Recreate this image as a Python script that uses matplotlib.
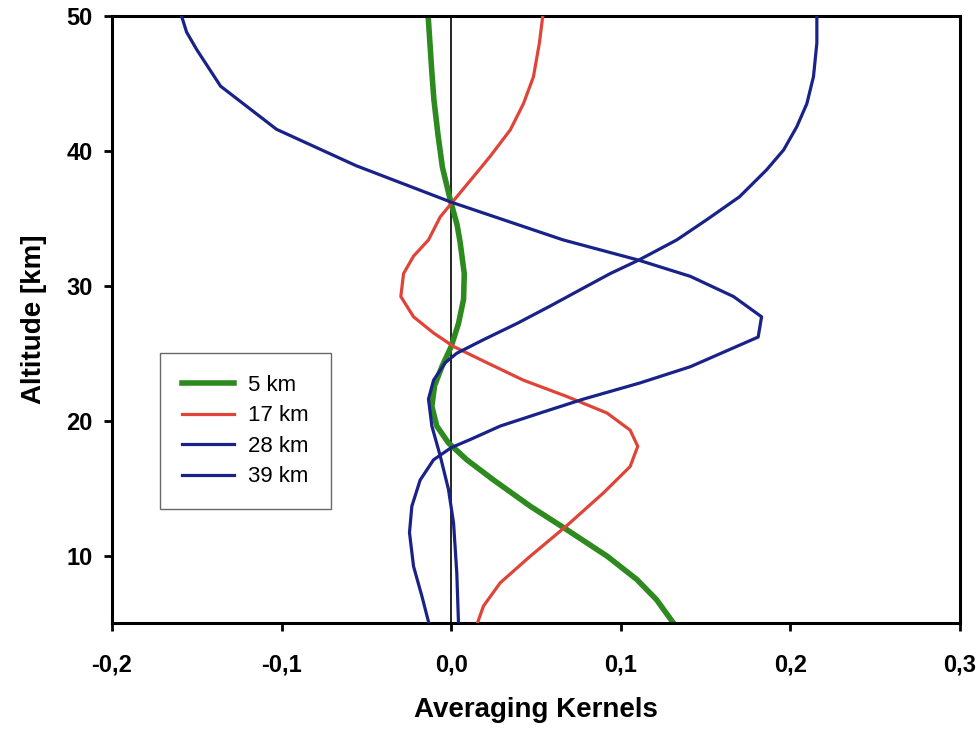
import matplotlib
matplotlib.use("Agg")
import matplotlib.pyplot as plt
from matplotlib.ticker import FuncFormatter

plt.rcParams['font.family'] = ['Liberation Sans', 'DejaVu Sans']

# Averaging kernel profiles (altitude in km, kernel value)
alt_5 = [50, 46.0, 43.8, 41.2, 38.8, 36.5, 34.5, 33.2, 30.9, 29.0, 27.2, 25.5,
         24.0, 22.6, 21.06, 19.6, 18.35, 17.1, 15.6, 13.66, 11.93, 9.95, 8.22,
         6.74, 5.0]
ak_5 = [-0.0136, -0.0115, -0.0102, -0.0078, -0.0052, -0.0008, 0.0035, 0.0053,
        0.0077, 0.0073, 0.0043, 0.0, -0.0055, -0.0098, -0.0114, -0.0085,
        -0.0016, 0.0092, 0.025, 0.0466, 0.068, 0.092, 0.1095, 0.121, 0.131]

alt_17 = [50, 48.0, 45.5, 43.5, 41.55, 39.6, 38.1, 36.6, 35.1, 33.4, 32.2, 30.9,
          29.2, 27.7, 26.5, 25.5, 24.3, 23.0, 21.8, 20.57, 19.3, 18.1, 16.6,
          14.65, 12.2, 9.95, 7.98, 6.25, 5.0]
ak_17 = [0.0540, 0.052, 0.0485, 0.0426, 0.0348, 0.023, 0.0132, 0.0033, -0.0065,
         -0.0134, -0.0222, -0.0281, -0.0297, -0.0222, -0.0104, 0.0014, 0.021,
         0.0426, 0.068, 0.0918, 0.1055, 0.110, 0.1055, 0.0898, 0.068, 0.0466,
         0.0289, 0.019, 0.0155]

alt_28 = [50, 48.0, 45.5, 43.5, 41.8, 40.07, 38.6, 36.6, 34.9, 33.4, 31.9, 30.9,
          29.7, 28.5, 27.2, 26.0, 25.0, 24.3, 23.0, 21.6, 19.6, 17.4, 14.9, 12.4,
          8.7, 5.0]
ak_28 = [0.2156, 0.2156, 0.2136, 0.2097, 0.2038, 0.196, 0.186, 0.170, 0.1507,
         0.133, 0.1105, 0.0937, 0.076, 0.0584, 0.0387, 0.019, 0.0033, -0.0035,
         -0.0104, -0.0134, -0.0114, -0.0065, -0.0016, 0.0014, 0.0033, 0.0043]

alt_39 = [50, 48.8, 47.5, 44.8, 41.6, 38.9, 36.2, 33.4, 31.9, 30.7, 29.2, 27.7,
          26.2, 24.0, 22.8, 21.6, 20.57, 19.6, 18.6, 18.0, 17.1, 15.6, 13.66,
          11.7, 9.2, 7.0, 5.0]
ak_39 = [-0.159, -0.156, -0.150, -0.136, -0.103, -0.056, 0.0, 0.066, 0.1105,
         0.141, 0.1665, 0.183, 0.181, 0.141, 0.1114, 0.078, 0.0525, 0.0289,
         0.0112, 0.0, -0.0104, -0.0183, -0.0232, -0.0246, -0.0222, -0.0173,
         -0.0132]

labels = ['5 km', '17 km', '28 km', '39 km']
x_ticks = [-0.2, -0.1, 0.0, 0.1, 0.2, 0.3]
y_ticks = [10, 20, 30, 40, 50]

green = '#2d8a1e'
red = '#e04438'
navy = '#182288'

fig = plt.figure(figsize=(9.78, 7.29), dpi=100)
ax = fig.add_axes([112 / 978, 1 - 623 / 729, 848 / 978, 607 / 729])

ax.axvline(0, color='black', lw=1.2, zorder=1)
ax.plot(ak_5, alt_5, color=green, lw=4.0, label=labels[0], zorder=2,
        solid_joinstyle='round')
ax.plot(ak_17, alt_17, color=red, lw=2.3, label=labels[1], zorder=3,
        solid_joinstyle='round')
ax.plot(ak_28, alt_28, color=navy, lw=2.3, label=labels[2], zorder=3,
        solid_joinstyle='round')
ax.plot(ak_39, alt_39, color=navy, lw=2.3, label=labels[3], zorder=3,
        solid_joinstyle='round')

ax.set_xlim(-0.2, 0.3)
ax.set_ylim(5, 50)
ax.set_xticks(x_ticks)
ax.set_yticks(y_ticks)
ax.xaxis.set_major_formatter(
    FuncFormatter(lambda v, p: f"{v:.1f}".replace('.', ',').replace('-0,0', '0,0')))

for s in ax.spines.values():
    s.set_linewidth(2.2)
ax.tick_params(axis='both', direction='out', length=6, width=2, labelsize=17)
ax.tick_params(axis='x', pad=16)
ax.tick_params(axis='y', pad=8)
for lab in ax.get_xticklabels() + ax.get_yticklabels():
    lab.set_fontweight('bold')

ax.set_xlabel('Averaging Kernels', fontsize=20, fontweight='bold')
ax.set_ylabel('Altitude [km]', fontsize=20, fontweight='bold')
ax.xaxis.set_label_coords(0.5, (623 - 697) / 607)
ax.yaxis.set_label_coords(-0.077, 0.5)

leg = ax.legend(loc='upper left',
                bbox_to_anchor=((160 - 112) / 848, (623 - 353) / 607),
                borderaxespad=0, fancybox=False, frameon=True,
                edgecolor='#444444', fontsize=16, handlelength=2.35,
                handletextpad=0.65, labelspacing=0.43, borderpad=0.98)
leg.get_frame().set_linewidth(1.0)

fig.savefig('out.png', dpi=100)
